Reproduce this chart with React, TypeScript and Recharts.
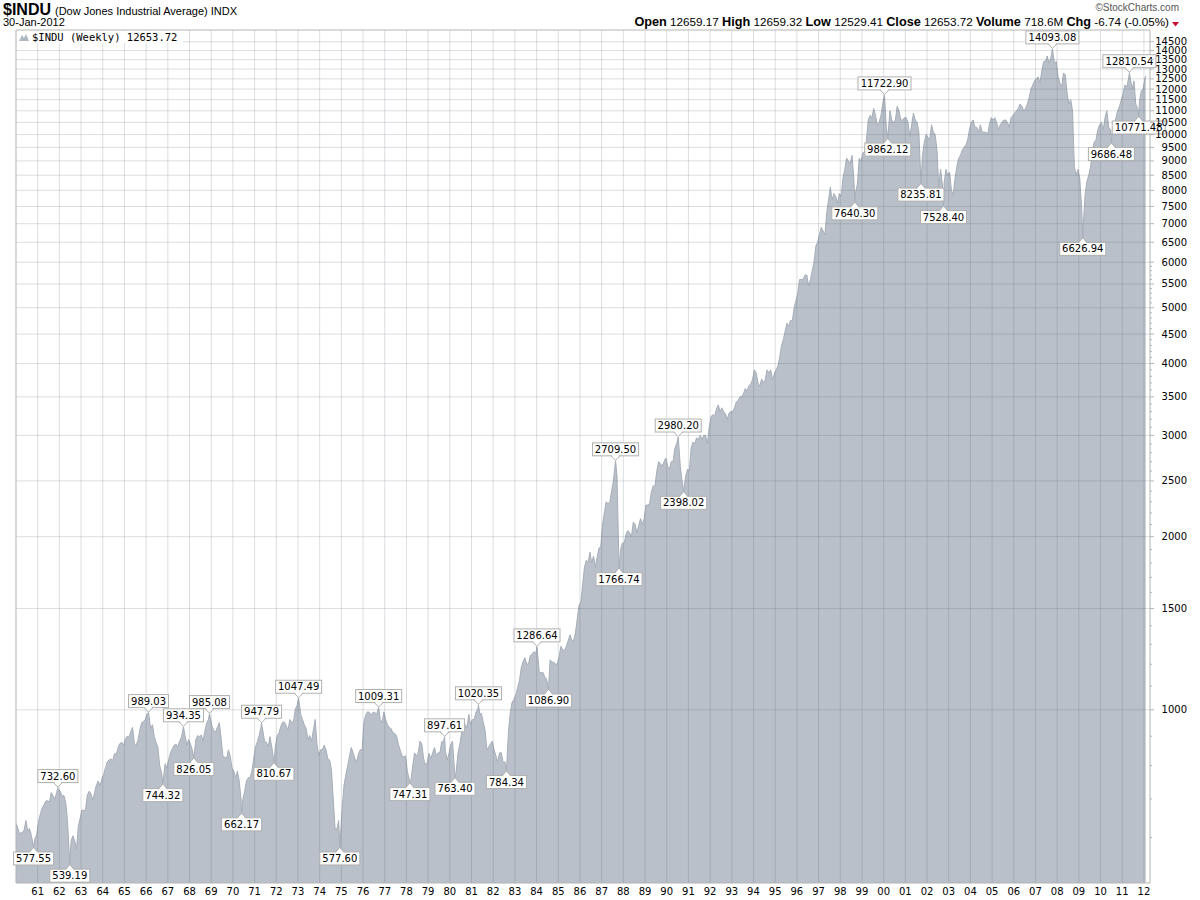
import React from 'react'
import { ComposedChart, Area, XAxis, YAxis, ReferenceLine, ReferenceDot } from 'recharts'

// mid-month levels of the Dow, one row per year
const levels60s = [
  630, 615, 610, 612, 618, 642, 615, 622, 605, 588, 597, 608, // 1960
  640, 660, 675, 684, 694, 695, 692, 718, 708, 700, 718, 726, // 1961
  722, 708, 710, 690, 640, 565, 592, 604, 592, 572, 628, 648, // 1962
  670, 668, 672, 712, 722, 714, 696, 718, 740, 752, 738, 758, // 1963
  772, 794, 812, 818, 822, 816, 840, 836, 860, 874, 878, 868, // 1964
  890, 900, 896, 916, 932, 872, 868, 886, 922, 950, 954, 962, // 1965
  984, 962, 928, 942, 898, 878, 860, 800, 778, 772, 806, 792, // 1966
  820, 842, 856, 868, 872, 862, 882, 896, 922, 902, 868, 888, // 1967
  872, 852, 838, 888, 902, 898, 904, 882, 920, 948, 962, 968, // 1968
  936, 920, 916, 934, 950, 890, 830, 828, 822, 852, 832, 792, // 1969
]

const levels70s = [
  782, 762, 782, 752, 700, 698, 722, 752, 762, 762, 782, 822, // 1970
  862, 880, 902, 932, 922, 882, 878, 862, 898, 862, 828, 862, // 1971
  902, 912, 936, 952, 952, 938, 922, 962, 952, 952, 1002, 1018, // 1972
  1030, 982, 962, 942, 928, 888, 902, 882, 922, 962, 872, 832, // 1973
  852, 852, 868, 852, 822, 818, 788, 702, 622, 620, 642, 600, // 1974
  680, 740, 772, 800, 832, 860, 842, 822, 812, 840, 852, 852, // 1975
  952, 980, 992, 990, 978, 990, 990, 982, 992, 962, 950, 992, // 1976
  962, 942, 932, 928, 912, 910, 902, 872, 852, 832, 828, 832, // 1977
  782, 758, 755, 800, 842, 830, 842, 882, 872, 822, 802, 810, // 1978
  840, 822, 842, 860, 832, 842, 842, 880, 882, 850, 818, 838, // 1979
]

const levels80s = [
  870, 882, 792, 780, 840, 870, 912, 952, 942, 932, 982, 942, // 1980
  962, 962, 992, 1002, 985, 985, 952, 922, 852, 862, 872, 882, // 1981
  852, 832, 812, 842, 842, 810, 812, 862, 922, 992, 1032, 1042, // 1982
  1062, 1092, 1122, 1182, 1212, 1232, 1202, 1200, 1242, 1250, 1262, 1252, // 1983
  1270, 1160, 1160, 1162, 1140, 1132, 1110, 1222, 1210, 1210, 1202, 1200, // 1984
  1240, 1290, 1270, 1270, 1290, 1320, 1350, 1320, 1320, 1360, 1440, 1520, // 1985
  1540, 1650, 1770, 1820, 1800, 1880, 1800, 1850, 1770, 1840, 1910, 1920, // 1986
  2100, 2200, 2300, 2280, 2300, 2400, 2500, 2650, 2550, 2200, 1900, 1950, // 1987
  1950, 2020, 2050, 2030, 2000, 2120, 2100, 2030, 2090, 2150, 2100, 2150, // 1988
  2270, 2270, 2280, 2390, 2450, 2450, 2600, 2700, 2680, 2650, 2700, 2740, // 1989
]

const levels90s = [
  2650, 2620, 2700, 2700, 2850, 2900, 2950, 2650, 2500, 2450, 2550, 2620, // 1990
  2600, 2850, 2920, 2900, 2970, 2950, 3000, 2950, 3000, 3000, 2900, 3100, // 1991
  3230, 3260, 3240, 3330, 3390, 3300, 3350, 3300, 3270, 3200, 3280, 3300, // 1992
  3300, 3350, 3430, 3450, 3500, 3500, 3550, 3620, 3580, 3660, 3690, 3750, // 1993
  3900, 3850, 3700, 3650, 3760, 3700, 3750, 3900, 3850, 3900, 3750, 3830, // 1994
  3900, 3960, 4100, 4300, 4400, 4550, 4700, 4650, 4750, 4750, 5000, 5150, // 1995
  5300, 5600, 5600, 5600, 5700, 5700, 5450, 5600, 5800, 6000, 6400, 6500, // 1996
  6700, 6900, 6800, 6700, 7300, 7700, 8100, 7700, 7900, 7800, 7600, 7900, // 1997
  7800, 8400, 8700, 9100, 9000, 8900, 9200, 8400, 7950, 8200, 9100, 9000, // 1998
  9300, 9300, 9800, 10600, 10800, 10700, 11100, 10800, 10400, 10500, 10800, 11300, // 1999
]

const levels00s = [
  11300, 10300, 10700, 11000, 10600, 10500, 10600, 11200, 11000, 10600, 10600, 10700, // 2000
  10700, 10500, 9900, 10400, 10900, 10600, 10500, 10100, 9000, 9200, 9700, 10000, // 2001
  9900, 9800, 10400, 10100, 10000, 9400, 8100, 8700, 8200, 8250, 8700, 8500, // 2002
  8600, 8000, 7850, 8400, 8800, 9100, 9200, 9400, 9500, 9600, 9800, 10200, // 2003
  10500, 10600, 10300, 10300, 10100, 10400, 10100, 10100, 10100, 10000, 10400, 10700, // 2004
  10600, 10700, 10500, 10200, 10400, 10500, 10600, 10600, 10500, 10300, 10700, 10800, // 2005
  10900, 11000, 11100, 11300, 11200, 11000, 11100, 11300, 11600, 12000, 12200, 12400, // 2006
  12500, 12600, 12300, 12900, 13400, 13400, 13700, 13300, 13600, 13900, 13300, 13400, // 2007
  12600, 12300, 12100, 12800, 12700, 11800, 11300, 11500, 11000, 8800, 8500, 8700, // 2008
  8400, 7500, 7000, 7900, 8300, 8500, 8800, 9400, 9700, 9800, 10200, 10400, // 2009
]

const levels10s = [
  10500, 10200, 10700, 11000, 10300, 10200, 10200, 10300, 10700, 11000, 11200, 11500, // 2010
  11800, 12200, 12100, 12500, 12500, 12000, 12400, 11300, 11100, 11400, 11900, 12000, // 2011
  12500, // 2012
]

// weekly extremes that carry a value tag on the chart
const markerDates = [
  1960.81, 1961.93, 1962.48, 1966.11, 1966.77, 1967.72, 1968.2, 1968.92, 1970.4, 1971.32,
  1971.89, 1973.03, 1974.93, 1976.72, 1978.16, 1979.76, 1980.24, 1981.32, 1982.61, 1984.02,
  1984.55, 1987.64, 1987.8, 1990.53, 1990.78, 1998.67, 2000.04, 2000.19, 2001.72, 2002.76,
  2007.78, 2009.18, 2010.5, 2011.33, 2011.76,
]
const markerValues = [
  577.55, 732.6, 539.19, 989.03, 744.32, 934.35, 826.05, 985.08, 662.17, 947.79,
  810.67, 1047.49, 577.6, 1009.31, 747.31, 897.61, 763.4, 1020.35, 784.34, 1286.64,
  1086.9, 2709.5, 1766.74, 2980.2, 2398.02, 7640.3, 11722.9, 9862.12, 8235.81, 7528.4,
  14093.08, 6626.94, 9686.48, 12810.54, 10771.48,
]
// true = tag sits under the point (a low), false = above (a high)
const markerBelow = [
  true, false, true, false, true, false, true, false, true, false,
  true, false, true, false, true, false, true, false, true, false,
  true, false, true, false, true, true, false, true, true, true,
  false, true, true, false, true,
]

const firstWeek = { date: 1960.0, value: 635 }
const lastWeek = { date: 2012.08, value: 12653.72 }

const yearTicks = Array.from({ length: 52 }, (_, i) => 1961 + i)
const priceTicks = [
  1000, 1500, 2000, 2500, 3000, 3500, 4000, 4500, 5000, 5500, 6000, 6500, 7000, 7500,
  8000, 8500, 9000, 9500, 10000, 10500, 11000, 11500, 12000, 12500, 13000, 13500, 14000, 14500,
]
// unlabelled small ticks on the price axis
const minorTicks = [
  600, 700, 800, 900, 1100, 1200, 1300, 1400, 1600, 1700, 1800, 1900, 2100, 2200, 2300, 2400,
  2600, 2700, 2800, 2900, 3100, 3200, 3300, 3400, 3600, 3700, 3800, 3900, 4100, 4200, 4300, 4400,
  4600, 4700, 4800, 4900, 5100, 5200, 5300, 5400, 5600, 5700, 5800, 5900,
]

const X_MIN = 1960
const X_MAX = 2012.28
const Y_MIN = 500
const Y_MAX = 15200

const monthly = [...levels60s, ...levels70s, ...levels80s, ...levels90s, ...levels00s, ...levels10s]

const data = (() => {
  const pts = monthly
    .map((v, i) => ({ date: X_MIN + (i + 0.5) / 12, value: v }))
    .filter((p) => !markerDates.some((d) => Math.abs(d - p.date) < 0.025))
  markerDates.forEach((d, i) => pts.push({ date: d, value: markerValues[i] }))
  pts.push(firstWeek, lastWeek)
  return pts.sort((a, b) => a.date - b.date)
})()

const allPriceTicks = [...minorTicks, ...priceTicks].sort((a, b) => a - b)

const FONT = 'DejaVu Sans, Verdana, sans-serif'
const SANS = 'Liberation Sans, Arial, sans-serif'
const GRID = 'rgba(80, 90, 105, 0.2)'
const FRAME = '#b4b4b4'

const tagWidth = (s: string) => {
  let w = 0
  for (const c of s) w += c === '.' ? 3.2 : 6.36
  return Math.round(w + 5)
}

const ValueTag = (props: any) => {
  const { cx, cy, text, below } = props
  if (cx == null || cy == null) return null
  const w = tagWidth(text)
  const h = 13
  const gap = 5
  const boxY = below ? cy + gap : cy - gap - h
  const edge = below ? cy + gap : cy - gap
  const tip = below ? cy + 0.5 : cy - 0.5
  return (
    <g>
      <rect x={cx - w / 2} y={boxY} width={w} height={h} fill="#fff" stroke="#b0b0b0" />
      <polygon points={`${cx - 4},${edge + (below ? 1 : -1)} ${cx},${tip} ${cx + 4},${edge + (below ? 1 : -1)}`} fill="#fff" />
      <polyline points={`${cx - 4.5},${edge} ${cx},${tip} ${cx + 4.5},${edge}`} fill="none" stroke="#b0b0b0" />
      <text x={cx} y={boxY + 10} textAnchor="middle" fontSize={10} fontFamily={FONT} fill="#000">
        {text}
      </text>
    </g>
  )
}

// major ticks get a label, minor ones only a short mark on the axis
const PriceTick = (props: any) => {
  const { x, y, payload } = props
  const major = priceTicks.includes(payload.value)
  const axisX = x - 8
  return (
    <g>
      <line x1={axisX} x2={axisX + (major ? 4 : 2)} y1={y} y2={y} stroke={FRAME} />
      {major && (
        <text x={x + 29} y={y} dy={3.5} textAnchor="end" fontSize={10} fontFamily={FONT} fill="#000">
          {payload.value}
        </text>
      )}
    </g>
  )
}

const Header = () => (
  <svg width={1200} height={46} style={{ position: 'absolute', left: 0, top: 0, pointerEvents: 'none' }}>
    <text x={3} y={15} fontFamily={SANS} fontSize={11} fill="#000">
      <tspan fontWeight="bold" fontSize={16}>$INDU</tspan>
      <tspan dx={4}>(Dow Jones Industrial Average) INDX</tspan>
    </text>
    <text x={3} y={26} fontFamily={SANS} fontSize={11} fill="#000">
      30-Jan-2012
    </text>
    <text x={1179} y={11} textAnchor="end" fontFamily={SANS} fontSize={10} fill="#555">
      ©StockCharts.com
    </text>
    <text x={1169} y={26} textAnchor="end" fontFamily={SANS} fontSize={11.7} fill="#000">
      <tspan fontWeight="bold" fontSize={12.7}>Open</tspan> 12659.17{'  '}
      <tspan fontWeight="bold" fontSize={12.7}>High</tspan> 12659.32{'  '}
      <tspan fontWeight="bold" fontSize={12.7}>Low</tspan> 12529.41{'  '}
      <tspan fontWeight="bold" fontSize={12.7}>Close</tspan> 12653.72{'  '}
      <tspan fontWeight="bold" fontSize={12.7}>Volume</tspan> 718.6M{'  '}
      <tspan fontWeight="bold" fontSize={12.7}>Chg</tspan> -6.74 (-0.05%)
    </text>
    <path d="M1172,22 L1179,22 L1175.5,26.5 Z" fill="#c8102e" />
    <rect x={17} y={31} width={166} height={12} fill="#fff" />
    <path d="M19,41 L22,35 L24,38 L26,34 L29,41 Z" fill="#b0b8c2" />
    <text x={32} y={41} fontFamily="DejaVu Sans Mono, monospace" fontSize={10.5} fill="#000">
      $INDU (Weekly) 12653.72
    </text>
  </svg>
)

export default function App() {
  return (
    <div style={{ position: 'absolute', left: 0, top: 0, width: 1200, height: 900, background: '#fff' }}>
      <ComposedChart width={1200} height={900} data={data} margin={{ top: 30, right: 0, bottom: 0, left: 16 }}>
        <XAxis
          dataKey="date"
          type="number"
          domain={[X_MIN, X_MAX]}
          allowDataOverflow
          ticks={yearTicks}
          interval={0}
          tickFormatter={(v: number) => String(v % 100).padStart(2, '0')}
          tick={{ fontSize: 10, fontFamily: FONT, fill: '#000' }}
          tickLine={false}
          tickSize={4}
          tickMargin={1}
          axisLine={{ stroke: FRAME }}
          height={17}
        />
        <YAxis
          orientation="right"
          scale="log"
          domain={[Y_MIN, Y_MAX]}
          allowDataOverflow
          ticks={allPriceTicks}
          interval={0}
          tick={<PriceTick />}
          tickSize={4}
          tickMargin={4}
          tickLine={false}
          axisLine={{ stroke: FRAME }}
          width={50}
        />
        <Area
          type="linear"
          dataKey="value"
          baseValue="dataMin"
          stroke="#a6aeb8"
          strokeWidth={1}
          fill="#b9c0c9"
          fillOpacity={1}
          isAnimationActive={false}
          dot={false}
          activeDot={false}
        />
        {yearTicks.map((yr) => (
          <ReferenceLine key={`yr-${yr}`} x={yr} stroke={GRID} />
        ))}
        {priceTicks.map((p) => (
          <ReferenceLine key={`px-${p}`} y={p} stroke={GRID} />
        ))}
        <ReferenceLine y={Y_MAX} stroke={FRAME} />
        <ReferenceLine x={X_MIN} stroke={FRAME} />
        {markerDates.map((d, i) => (
          <ReferenceDot
            key={`tag-${i}`}
            x={d}
            y={markerValues[i]}
            r={0}
            ifOverflow="visible"
            shape={(p: any) => <ValueTag {...p} text={markerValues[i].toFixed(2)} below={markerBelow[i]} />}
          />
        ))}
      </ComposedChart>
      <Header />
    </div>
  )
}
